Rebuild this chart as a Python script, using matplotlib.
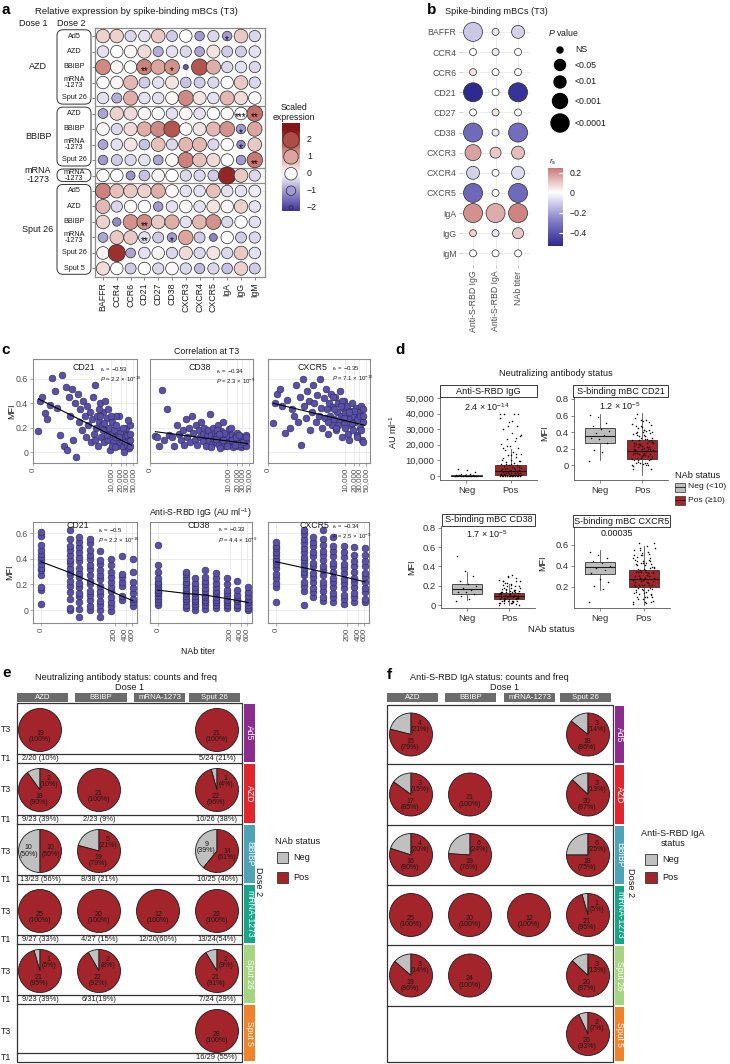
import numpy as np
import matplotlib
matplotlib.use("Agg")
import matplotlib.pyplot as plt
from matplotlib.colors import LinearSegmentedColormap, Normalize
from matplotlib.patches import Rectangle, FancyBboxPatch

plt.rcParams["font.family"] = ["Liberation Sans", "DejaVu Sans"]
plt.rcParams["mathtext.fontset"] = "custom"
plt.rcParams["mathtext.rm"] = "Liberation Sans"
plt.rcParams["mathtext.it"] = "Liberation Sans:italic"
plt.rcParams["mathtext.bf"] = "Liberation Sans:bold"

# -----------------------------
# (a) scaled expression dot plot
# -----------------------------
markers_a = ["BAFFR", "CCR4", "CCR6", "CD21", "CD27", "CD38",
             "CXCR3", "CXCR4", "CXCR5", "IgA", "IgG", "IgM"]
a_dose1 = ["AZD", "BBIBP", "mRNA\n-1273", "Sput 26"]
a_group_sizes = [5, 4, 1, 6]
a_dose2 = ["Ad5", "AZD", "BBIBP", "mRNA\n-1273", "Sput 26",
           "AZD", "BBIBP", "mRNA\n-1273", "Sput 26",
           "mRNA\n-1273",
           "Ad5", "AZD", "BBIBP", "mRNA\n-1273", "Sput 26", "Sput 5"]
scaled_expr = [
    [0.5, 0.5, -0.4, -0.3, 0.6, -0.5, 0.0, -1.0, -0.4, -1.0, 0.6, -0.4],
    [-0.3, 0.0, 0.1, 0.4, -0.8, -0.3, -0.4, -0.9, 0.3, -0.5, -0.5, -0.3],
    [1.3, 0.1, 0.0, 1.4, 1.0, 1.2, -1.8, 1.9, 0.9, -0.4, -0.3, -0.4],
    [0.0, 0.1, 0.8, -0.5, -0.3, 0.3, -0.6, -0.5, -0.4, 0.0, 0.6, -0.4],
    [-0.3, -0.8, 0.9, -0.3, -0.3, 0.1, 1.3, 0.3, -0.3, 0.8, 0.4, 0.0],
    [-0.9, 0.5, 0.4, 0.1, 0.0, -0.3, 0.1, -0.3, 0.0, 0.0, 0.0, 1.6],
    [0.1, -0.4, 0.4, 0.9, 1.3, 1.9, 0.0, 0.3, 0.8, 1.2, -1.0, 1.0],
    [-0.9, -0.3, 0.3, -0.6, 0.7, -0.4, 0.8, 0.8, -0.4, 0.0, -1.2, 0.6],
    [-1.0, -0.5, -0.4, -0.3, -0.9, 0.1, 1.4, 0.7, 0.4, 0.0, -1.0, 1.5],
    [0.0, 0.0, -1.1, -0.6, 0.1, 0.0, -0.4, -0.4, -0.5, 2.4, 0.6, -0.4],
    [1.4, 0.7, 0.6, 0.5, 0.9, 0.1, -0.3, -0.3, 0.7, -0.3, -0.3, -0.2],
    [0.8, -0.4, 0.0, 0.0, -1.0, -0.3, 0.1, -0.3, 0.3, 0.1, 0.5, -0.3],
    [0.5, -1.2, 1.2, 1.3, 0.6, 0.9, -0.3, 0.8, 1.2, -0.4, 0.0, -0.3],
    [-0.9, 0.6, 0.6, -0.3, -0.5, -1.0, 1.0, -0.5, -1.3, 0.0, -0.5, -0.4],
    [0.1, 2.3, -0.9, -0.3, 0.1, -0.4, 0.4, -0.4, 0.3, -0.4, 0.6, -0.3],
    [0.4, 0.0, -0.5, 0.0, -0.4, 0.1, -0.4, -0.7, -0.4, -0.6, 0.5, -0.5],
]
a_stars = [(0, 9, "*"), (2, 3, "**"), (2, 5, "*"), (5, 10, "***"), (5, 11, "**"),
           (6, 10, "*"), (7, 10, "*"), (8, 11, "**"), (12, 3, "**"), (13, 3, "**"),
           (13, 5, "*")]
a_legend_vals = [2, 1, 0, -1, -2]

# -----------------------------
# (b) correlation dot plot
# -----------------------------
markers_b = ["BAFFR", "CCR4", "CCR6", "CD21", "CD27", "CD38",
             "CXCR3", "CXCR4", "CXCR5", "IgA", "IgG", "IgM"]
b_cols = ["Anti-S-RBD IgG", "Anti-S-RBD IgA", "NAb titer"]
b_rs = [
    [-0.12, -0.05, -0.10], [0.0, -0.05, 0.0], [0.05, 0.0, 0.0],
    [-0.53, 0.0, -0.50], [0.0, 0.05, 0.0], [-0.34, -0.05, -0.33],
    [0.17, 0.10, 0.12], [-0.10, 0.0, -0.08], [-0.35, 0.0, -0.34],
    [0.20, 0.15, 0.22], [0.08, -0.05, 0.10], [0.0, 0.0, 0.0],
]
# 0 = NS, 1 = <0.05, 2 = <0.01, 3 = <0.001, 4 = <0.0001
b_pclass = [
    [4, 0, 2], [0, 0, 0], [0, 0, 0], [4, 0, 4], [0, 0, 0], [4, 0, 4],
    [3, 1, 2], [2, 0, 2], [4, 0, 4], [4, 4, 4], [0, 0, 1], [0, 0, 0],
]
p_labels = ["NS", "<0.05", "<0.01", "<0.001", "<0.0001"]

# -----------------------------
# (c) correlation scatter
# -----------------------------
igg_au = [13, 20, 29, 43, 55, 76, 93, 124, 148, 193,
          228, 270, 318, 345, 405, 439, 513, 555, 650, 701,
          819, 884, 954, 1113, 1200, 1397, 1509, 1626, 1753, 2040,
          2199, 2369, 2553, 2757, 2970, 3198, 3453, 3720, 4008, 4317,
          4659, 5019, 5403, 5820, 6282, 6765, 7284, 7842, 8463, 9114,
          9813, 10566, 11403, 12276, 13218, 14229, 15357, 16533, 17799, 19161,
          20676, 22260, 23964, 25800, 27837, 29970, 32280, 34800, 37470, 40000,
          4400, 5900, 7900, 10400, 14000, 19500, 26000, 35500, 40000, 40000,
          2900, 4100, 5300, 7400, 9700, 13500, 18000, 24500, 32000, 40000]
cd21_top = [0.17, 0.42, 0.45, 0.32, 0.27, 0.39, 0.61, 0.50, 0.36, 0.14,
            0.63, 0.05, 0.53, 0.02, 0.45, 0.30, 0.52, 0.10, 0.40, -0.04,
            0.48, 0.25, 0.35, 0.18, 0.42, 0.30, 0.12, 0.38, 0.22, 0.33,
            0.08, 0.27, 0.45, 0.15, 0.55, 0.20, 0.30, 0.05, 0.25, 0.40,
            0.12, 0.22, 0.33, 0.08, 0.42, 0.18, 0.28, 0.10, 0.20, 0.02,
            0.15, 0.25, 0.08, 0.18, 0.12, 0.22, 0.05, 0.14, 0.30, 0.08,
            0.18, 0.10, 0.04, 0.16, 0.08, 0.20, 0.06, 0.12, 0.03, 0.22,
            0.30, 0.24, 0.35, 0.05, 0.30, 0.16, 0.00, 0.26, 0.10, 0.05,
            0.10, 0.35, 0.18, 0.14, 0.30, 0.04, 0.12, 0.20, 0.14, 0.15]
cd38_top = [0.13, 0.12, 0.05, 0.51, 0.10, 0.35, 0.14, 0.12, 0.05, 0.22,
            0.15, 0.10, 0.18, 0.06, 0.27, 0.12, 0.20, 0.08, 0.30, 0.16,
            0.10, 0.22, 0.06, 0.18, 0.12, 0.25, 0.09, 0.15, 0.20, 0.05,
            0.13, 0.18, 0.10, 0.31, 0.14, 0.07, 0.20, 0.11, 0.16, 0.08,
            0.14, 0.22, 0.06, 0.12, 0.17, 0.09, 0.25, 0.05, 0.11, 0.15,
            0.08, 0.13, 0.19, 0.06, 0.10, 0.14, 0.04, 0.09, 0.12, 0.07,
            0.16, 0.05, 0.10, 0.13, 0.04, 0.08, 0.11, 0.06, 0.09, 0.14,
            0.18, 0.03, 0.16, 0.08, 0.10, 0.12, 0.07, 0.10, 0.05, 0.09,
            0.04, 0.11, 0.15, 0.10, 0.05, 0.20, 0.06, 0.14, 0.08, 0.12]
cxcr5_top = [0.24, 0.40, 0.48, 0.52, 0.38, 0.16, 0.43, 0.20, 0.35, 0.30,
             0.55, 0.25, 0.45, 0.06, 0.60, 0.38, 0.28, 0.50, 0.42, 0.18,
             0.33, 0.55, 0.40, 0.25, 0.47, 0.30, 0.60, 0.36, 0.20, 0.44,
             0.28, 0.52, 0.35, 0.15, 0.40, 0.30, 0.48, 0.22, 0.37, 0.27,
             0.45, 0.18, 0.33, 0.40, 0.25, 0.50, 0.30, 0.12, 0.36, 0.24,
             0.42, 0.20, 0.30, 0.38, 0.15, 0.27, 0.34, 0.22, 0.40, 0.18,
             0.30, 0.25, 0.36, 0.14, 0.28, 0.33, 0.20, 0.38, 0.10, 0.25,
             0.35, 0.22, 0.42, 0.32, 0.10, 0.34, 0.26, 0.18, 0.35, 0.08,
             0.25, 0.45, 0.20, 0.38, 0.28, 0.33, 0.24, 0.12, 0.30, 0.30]
top_fit_x = [15, 45000]
top_fit = [[0.436, 0.056], [0.167, 0.07], [0.40, 0.22]]
top_stats = [("−0.53", "2.2 × 10$^{-16}$"), ("−0.34", "2.3 × 10$^{-9}$"),
             ("−0.35", "7.1 × 10$^{-10}$")]

nab_levels = [0, 10, 20, 40, 80, 160, 320, 640]
cd21_bot = [
    [0.05, 0.16, 0.18, 0.27, 0.31, 0.33, 0.36, 0.39, 0.41, 0.44, 0.47, 0.51, 0.58, 0.61],
    [0.0, 0.02, 0.09, 0.14, 0.19, 0.23, 0.27, 0.30, 0.33, 0.37, 0.39, 0.43, 0.47, 0.50, 0.55, 0.62],
    [-0.05, 0.01, 0.06, 0.11, 0.13, 0.18, 0.21, 0.26, 0.29, 0.33, 0.38, 0.41, 0.45, 0.49, 0.53, 0.57],
    [0.0, 0.03, 0.08, 0.12, 0.15, 0.20, 0.23, 0.27, 0.32, 0.35, 0.40, 0.43, 0.47, 0.52, 0.55],
    [-0.05, 0.0, 0.04, 0.07, 0.12, 0.15, 0.19, 0.24, 0.27, 0.31, 0.36, 0.39, 0.46],
    [-0.01, 0.03, 0.06, 0.10, 0.15, 0.18, 0.22, 0.26, 0.30, 0.35, 0.40],
    [0.08, 0.11, 0.19, 0.22, 0.26, 0.28, 0.42],
    [0.03, 0.06, 0.09, 0.13, 0.17, 0.22, 0.30, 0.40],
]
cd38_bot = [
    [0.04, 0.06, 0.09, 0.11, 0.13, 0.14, 0.16, 0.18, 0.20, 0.22, 0.25, 0.30, 0.35, 0.51],
    [0.02, 0.04, 0.07, 0.09, 0.11, 0.13, 0.15, 0.17, 0.20, 0.22, 0.25, 0.28, 0.30],
    [0.0, 0.03, 0.05, 0.07, 0.09, 0.11, 0.13, 0.16, 0.18, 0.21, 0.25],
    [0.01, 0.04, 0.06, 0.08, 0.10, 0.12, 0.15, 0.17, 0.20, 0.23, 0.26, 0.31],
    [0.02, 0.04, 0.06, 0.08, 0.10, 0.13, 0.15, 0.18, 0.21, 0.25, 0.29],
    [0.02, 0.04, 0.06, 0.08, 0.11, 0.13, 0.16, 0.20, 0.25],
    [0.02, 0.04, 0.07, 0.09, 0.12, 0.16, 0.23],
    [0.0, 0.02, 0.04, 0.06, 0.08, 0.11, 0.14, 0.18],
]
cxcr5_bot = [
    [0.06, 0.18, 0.21, 0.25, 0.28, 0.33, 0.36, 0.38, 0.40, 0.43, 0.45, 0.48, 0.50, 0.53],
    [0.04, 0.15, 0.19, 0.22, 0.27, 0.30, 0.33, 0.36, 0.39, 0.41, 0.45, 0.48, 0.52, 0.55, 0.59, 0.62],
    [0.10, 0.14, 0.17, 0.22, 0.26, 0.29, 0.34, 0.37, 0.42, 0.45, 0.50, 0.53, 0.57],
    [0.07, 0.10, 0.15, 0.19, 0.22, 0.27, 0.31, 0.34, 0.39, 0.43, 0.46, 0.51, 0.55, 0.62],
    [0.06, 0.10, 0.13, 0.18, 0.22, 0.25, 0.30, 0.34, 0.37, 0.42, 0.46, 0.50, 0.57],
    [0.05, 0.09, 0.12, 0.17, 0.21, 0.24, 0.29, 0.33, 0.36, 0.41, 0.45, 0.50],
    [0.06, 0.10, 0.13, 0.18, 0.22, 0.25, 0.30, 0.34, 0.38, 0.43, 0.49],
    [0.06, 0.09, 0.14, 0.17, 0.22, 0.26, 0.29, 0.34, 0.38, 0.43, 0.48],
]
bot_fit = [[0.377, 0.293, 0.26, 0.225, 0.187, 0.148, 0.109, 0.073],
           [0.156, 0.13, 0.123, 0.117, 0.104, 0.09, 0.075, 0.06],
           [0.377, 0.33, 0.315, 0.297, 0.28, 0.26, 0.24, 0.22]]
bot_stats = [("−0.5", "2.2 × 10$^{-16}$"), ("−0.33", "4.4 × 10$^{-9}$"),
             ("−0.34", "2.5 × 10$^{-9}$")]
c_names = ["CD21", "CD38", "CXCR5"]

# -----------------------------
# (d) NAb status box plots
# -----------------------------
igg_neg = [0, 10, 30, 60, 90, 120, 150, 200, 250, 300, 380, 450, 600, 800,
           1100, 1500, 2400, 3600, 4800]
d_titles = ["Anti-S-RBD IgG", "S-binding mBC CD21", "S-binding mBC CD38",
            "S-binding mBC CXCR5"]
d_pvals = ["2.4 × 10$^{-14}$", "1.2 × 10$^{-5}$", "1.7 × 10$^{-5}$", "0.00035"]
# (median, q1, q3, whisker low, whisker high) for Neg, Pos
d_box_neg = [(150, 20, 450, 0, 1100), (0.35, 0.27, 0.45, 0.06, 0.62),
             (0.166, 0.114, 0.218, 0.05, 0.34), (0.39, 0.32, 0.44, 0.17, 0.55)]
d_box_pos = [(3300, 700, 7300, 0, 17000), (0.17, 0.07, 0.30, -0.12, 0.63),
             (0.093, 0.062, 0.124, 0.0, 0.22), (0.276, 0.20, 0.36, 0.03, 0.59)]

# -----------------------------
# (e), (f) pie grids
# -----------------------------
dose1_names = ["AZD", "BBIBP", "mRNA-1273", "Sput 26"]
dose2_names = ["Ad5", "AZD", "BBIBP", "mRNA-1273", "Sput 26", "Sput 5"]
dose2_colors = ["#8c2d8e", "#e0262c", "#4fa3b6", "#18a58a", "#a6d581", "#f0822a"]
e_counts = [  # (Neg, Pos)
    [(0, 19), None, None, (0, 21)],
    [(2, 18), (0, 21), None, (1, 22)],
    [(10, 10), (5, 19), None, (9, 14)],
    [(0, 25), (0, 20), (0, 12), (0, 22)],
    [(1, 21), (2, 22), None, (2, 21)],
    [None, None, None, (0, 28)],
]
e_t1 = [
    ["2/20 (10%)", "", "", "5/24 (21%)"],
    ["9/23 (39%)", "2/23 (9%)", "", "10/26 (38%)"],
    ["13/23 (56%)", "8/38 (21%)", "", "10/25 (40%)"],
    ["9/27 (33%)", "4/27 (15%)", "12/20(60%)", "13/24(54%)"],
    ["9/23 (39%)", "6/31(19%)", "", "7/24 (29%)"],
    ["", "", "", "16/29 (55%)"],
]
f_counts = [
    [(4, 15), None, None, (3, 18)],
    [(3, 17), (0, 21), None, (3, 20)],
    [(4, 16), (6, 19), None, (6, 18)],
    [(0, 25), (0, 20), (0, 12), (1, 21)],
    [(3, 19), (0, 24), None, (3, 20)],
    [None, None, None, (2, 26)],
]

# =============================
# Figure
# =============================
W, H = 730, 1064
fig = plt.figure(figsize=(W / 100, H / 100), dpi=100)


def axes_px(x0, y0, x1, y1):
    return fig.add_axes([x0 / W, 1 - y1 / H, (x1 - x0) / W, (y1 - y0) / H])


ov = axes_px(0, 0, W, H)
ov.set_zorder(10)
ov.patch.set_visible(False)


def T(x, y, s, **kw):
    kw.setdefault("fontsize", 6.3)
    kw.setdefault("ha", "center")
    kw.setdefault("va", "center")
    kw.setdefault("color", "#1a1a1a")
    return ov.text(x, H - y, s, **kw)


def s_px(d):
    return (np.asarray(d, float) * 72 / 100) ** 2


GRID = "#e8e8e8"
RED = "#a3242a"
GRAY = "#c0c0c0"

# ---------- panel a ----------
cmap_a = LinearSegmentedColormap.from_list(
    "expr", [(0, "#3f359c"), (0.25, "#a29bd2"), (0.458, "#ffffff"),
             (0.667, "#dca59e"), (0.875, "#b04c46"), (1, "#861616")])
norm_a = Normalize(-2.2, 2.6)


def size_a(v):
    return np.interp(v, [-2, -1, 0, 1, 2, 2.5], [4, 9.5, 12.5, 14.5, 16.5, 17.5])


T(1, 10, "a", ha="left", fontsize=11, fontweight="bold", color="black")
T(35, 12, "Relative expression by spike-binding mBCs (T3)", ha="left", fontsize=6.8)
T(33, 23, "Dose 1", fontsize=6.5)
T(71, 23, "Dose 2", fontsize=6.5)

axa = axes_px(95, 28, 265, 277)
vals = np.array(scaled_expr)
nr, nc = vals.shape
gx, gy = np.meshgrid(np.arange(nc), np.arange(nr))
axa.scatter(gx.ravel(), gy.ravel(), s=s_px(size_a(vals.ravel())), c=vals.ravel(),
            cmap=cmap_a, norm=norm_a, edgecolors="#2a2a2a", linewidths=0.5, zorder=3)
for r, c, t in a_stars:
    axa.text(c, r + 0.25, t, ha="center", va="center", fontsize=7, zorder=4)
axa.set_xlim(-0.58, 11.74)
axa.set_ylim(15.55, -0.52)
for k in range(nc):
    axa.axvline(k, color=GRID, lw=0.5, zorder=0)
for k in range(nr):
    axa.axhline(k, color=GRID, lw=0.5, zorder=0)
for yb in np.cumsum(a_group_sizes)[:-1] - 0.5:
    axa.axhline(yb, color="#8c8c8c", lw=0.9, zorder=2)
axa.set_xticks(range(nc))
axa.set_xticklabels(markers_a, rotation=90, fontsize=6.3, color="#1a1a1a")
axa.set_yticks(range(nr))
axa.set_yticklabels([])
axa.tick_params(length=2.5, width=0.5, color="#4d4d4d", pad=1.5)
for sp in axa.spines.values():
    sp.set_color("#8c8c8c")
    sp.set_linewidth(0.9)


def row_y(r):
    return 36 + 15.47 * r


start = 0
for g, n in enumerate(a_group_sizes):
    top = row_y(start - 0.5) + 1.5
    bot = row_y(start + n - 0.5) - 1.5
    ov.add_patch(FancyBboxPatch((57, H - bot), 34, bot - top,
                                boxstyle="round,pad=0,rounding_size=6",
                                fc="none", ec="#333333", lw=0.7))
    T(38, (top + bot) / 2, a_dose1[g], fontsize=6.5, linespacing=0.95)
    start += n
for r, lab in enumerate(a_dose2):
    T(74, row_y(r), lab, fontsize=5.2, linespacing=0.8)

# legend of a
T(294, 107, "Scaled", fontsize=6.3)
T(294, 118, "expression", fontsize=6.3)
axl = axes_px(282, 123, 300, 211)
axl.imshow(np.linspace(3.0, -2.2, 200)[:, None], aspect="auto", cmap=cmap_a,
           norm=norm_a, extent=[0, 1, -2.2, 3.0])
axl.scatter([0.5] * len(a_legend_vals), a_legend_vals, s=s_px(size_a(np.array(a_legend_vals))),
            c=a_legend_vals, cmap=cmap_a, norm=norm_a, edgecolors="#2a2a2a",
            linewidths=0.5, clip_on=False, zorder=3)
axl.set_xlim(0, 1)
axl.set_ylim(-2.2, 3.0)
axl.axis("off")
for v in a_legend_vals:
    T(307, 123 + (3.0 - v) / 5.2 * 88, "−%d" % -v if v < 0 else str(v), ha="left", fontsize=6.3)

# ---------- panel b ----------
cmap_b = LinearSegmentedColormap.from_list(
    "rs", [(0, "#2f2a90"), (0.33, "#8781c9"), (0.679, "#ffffff"), (1, "#c87673")])
norm_b = Normalize(-0.53, 0.25)
b_diam = np.array([7, 11, 13, 16, 19])

T(427, 10, "b", ha="left", fontsize=11, fontweight="bold", color="black")
T(445, 12, "Spike-binding mBCs (T3)", ha="left", fontsize=6.6)
axb = axes_px(462, 20, 530, 265)
rs = np.array(b_rs)
pc = np.array(b_pclass)
bx, by = np.meshgrid(np.arange(rs.shape[1]), np.arange(rs.shape[0]))
axb.scatter(bx.ravel(), by.ravel(), s=s_px(b_diam[pc.ravel()]), c=rs.ravel(),
            cmap=cmap_b, norm=norm_b, edgecolors="#2a2a2a", linewidths=0.5, zorder=3)
axb.set_xlim(-0.49, 2.53)
axb.set_ylim(11.58, -0.59)
for k in range(rs.shape[1]):
    axb.axvline(k, color=GRID, lw=0.6, zorder=0)
for k in range(rs.shape[0]):
    axb.axhline(k, color=GRID, lw=0.6, zorder=0)
axb.set_xticks(range(rs.shape[1]))
axb.set_xticklabels(b_cols, rotation=90, fontsize=6.3, color="#4d4d4d")
axb.set_yticks(range(rs.shape[0]))
axb.set_yticklabels(markers_b, fontsize=6.3, color="#4d4d4d")
axb.tick_params(length=2, width=0.5, color="#b0b0b0", pad=2)
for sp in axb.spines.values():
    sp.set_visible(False)

T(548, 33, "$P$ value", ha="left", fontsize=6.3)
leg_y = [50, 65, 82, 101, 123]
ov.scatter([560] * 5, [H - y for y in leg_y], s=s_px([6, 11, 12, 15, 18]), c="black")
for y, lab in zip(leg_y, p_labels):
    T(575, y, lab, ha="left", fontsize=6.3)
T(549, 162, "$r_\\mathrm{s}$", ha="left", fontsize=6)
axcb = axes_px(548, 168, 563, 246)
axcb.imshow(np.linspace(0.25, -0.53, 200)[:, None], aspect="auto", cmap=cmap_b,
            norm=norm_b, extent=[0, 1, -0.53, 0.25])
axcb.set_xticks([])
axcb.yaxis.tick_right()
axcb.set_yticks([0.2, 0, -0.2, -0.4])
axcb.set_yticklabels(["0.2", "0", "−0.2", "−0.4"])
axcb.tick_params(axis="y", direction="in", color="white", length=3, labelsize=6.3,
                 pad=5, labelcolor="#1a1a1a")
for sp in axcb.spines.values():
    sp.set_visible(False)

# ---------- panel c ----------
def fwd_top(x):
    return np.log10(1 + np.clip(x, -29.9, None) / 30)


def inv_top(y):
    return 30 * (10 ** y - 1)


def fwd_bot(x):
    return np.log10(1 + np.clip(x, -1.99, None) / 2)


def inv_bot(y):
    return 2 * (10 ** y - 1)


T(1, 350, "c", ha="left", fontsize=11, fontweight="bold", color="black")
T(207, 352, "Correlation at T3", fontsize=6.3)
T(200, 513, "Anti-S-RBD IgG (AU ml$^{-1}$)", fontsize=6.3)
T(198, 651, "NAb titer", fontsize=6.3)
T(12, 411, "MFI", rotation=90, fontsize=6.5)
T(10, 572, "MFI", rotation=90, fontsize=6.5)

PTC = "#5a50a8"
top_boxes = [(33, 137), (150, 253), (268, 370)]
bot_boxes = [(33, 137), (150, 252), (268, 369)]
top_ys = [cd21_top, cd38_top, cxcr5_top]
bot_ys = [cd21_bot, cd38_bot, cxcr5_bot]
top_ann = [(100, 370, 379), (216, 372, 381), (332, 369, 378)]
bot_ann = [(98, 531, 540), (218, 530, 540), (332, 527, 536)]
top_name = [(84, 367), (200, 368), (312, 368)]
bot_name = [(78, 525), (199, 526), (314, 526)]


def style_c(ax, first):
    for sp in ax.spines.values():
        sp.set_color("#8c8c8c")
        sp.set_linewidth(0.8)
    ax.grid(True, which="major", color=GRID, lw=0.6)
    ax.set_axisbelow(True)
    ax.tick_params(length=2, width=0.5, color="#8c8c8c", labelsize=6.3,
                   labelcolor="#4d4d4d", pad=1.5)
    ax.tick_params(axis="x", labelsize=5.8)
    if not first:
        ax.set_yticklabels([])
        ax.tick_params(axis="y", length=0)


for i in range(3):
    ax = axes_px(top_boxes[i][0], 359, top_boxes[i][1], 463)
    ax.set_xscale("function", functions=(fwd_top, inv_top))
    ax.scatter(igg_au, top_ys[i], s=s_px(6.8), c=PTC, edgecolors="#2a2a5c",
               linewidths=0.4, zorder=3)
    ax.plot(top_fit_x, top_fit[i], color="black", lw=0.8, zorder=4)
    ax.set_xlim(0, 67900)
    ax.set_ylim(-0.09, 0.764)
    ax.set_xticks([0, 10000, 20000, 30000, 50000])
    ax.set_xticklabels(["0", "10,000", "20,000", "30,000", "50,000"], rotation=90)
    ax.set_yticks([0, 0.2, 0.4, 0.6])
    ax.set_yticklabels(["0", "0.2", "0.4", "0.6"])
    style_c(ax, i == 0)
    T(top_name[i][0], top_name[i][1], c_names[i], fontsize=6.3)
    xa, y1, y2 = top_ann[i]
    T(xa, y1, "$r_\\mathrm{s}$ = " + top_stats[i][0], ha="left", fontsize=4.3)
    T(xa, y2, "$P$ = " + top_stats[i][1], ha="left", fontsize=4.3)

    ax = axes_px(bot_boxes[i][0], 522, bot_boxes[i][1], 623)
    ax.set_xscale("function", functions=(fwd_bot, inv_bot))
    xs = np.concatenate([[lv] * len(col) for lv, col in zip(nab_levels, bot_ys[i])])
    ys = np.concatenate(bot_ys[i])
    ax.scatter(xs, ys, s=s_px(6.8), c=PTC, edgecolors="#2a2a5c", linewidths=0.4, zorder=3)
    ax.plot(nab_levels, bot_fit[i], color="black", lw=0.8, zorder=4)
    ax.set_xlim(-0.79, 824)
    ax.set_ylim(-0.10, 0.686)
    ax.set_xticks([0, 200, 400, 600])
    ax.set_xticklabels(["0", "200", "400", "600"], rotation=90)
    ax.set_yticks([0, 0.2, 0.4, 0.6])
    ax.set_yticklabels(["0", "0.2", "0.4", "0.6"])
    style_c(ax, i == 0)
    T(bot_name[i][0], bot_name[i][1], c_names[i], fontsize=6.3)
    xa, y1, y2 = bot_ann[i]
    T(xa, y1, "$r_\\mathrm{s}$ = " + bot_stats[i][0], ha="left", fontsize=4.3)
    T(xa, y2, "$P$ = " + bot_stats[i][1], ha="left", fontsize=4.3)

# ---------- panel d ----------
T(395, 350, "d", ha="left", fontsize=11, fontweight="bold", color="black")
T(556, 373, "Neutralizing antibody status", fontsize=6.6)
T(551, 630, "NAb status", fontsize=6.8)

d_neg = [igg_neg, cd21_bot[0], cd38_bot[0], cxcr5_bot[0]]
d_pos = [igg_au, np.concatenate(cd21_bot[1:]), np.concatenate(cd38_bot[1:]),
         np.concatenate(cxcr5_bot[1:])]
d_boxes = [(440, 397, 537, 480), (574, 397, 668, 480), (441, 526, 535, 608),
           (574, 527, 670, 608)]
d_strips = [(440, 385, 537, 397), (573, 385, 668, 397), (442, 514, 535, 526),
            (573, 515, 670, 527)]
d_ylims = [(-2560, 50640), (-0.18, 0.824), (-0.031, 0.819), (0.0, 0.771)]
d_yticks = [[0, 10000, 20000, 30000, 40000, 50000], [0, 0.2, 0.4, 0.6, 0.8],
            [0, 0.2, 0.4, 0.6, 0.8], [0.2, 0.4, 0.6]]
d_ptxt = [(487, 407), (620, 406), (487, 534), (617, 534)]
d_ylab = [(393, 432, "AU ml$^{-1}$"), (545, 433, "MFI"), (412, 567, "MFI"),
          (543, 563, "MFI")]


def jitter(n, w=0.25):
    return ((np.arange(n) * 0.6180339) % 1 - 0.5) * 2 * w


for i in range(4):
    x0, y0, x1, y1 = d_boxes[i]
    ax = axes_px(x0, y0, x1, y1)
    stats = []
    for m, q1, q3, lo, hi in (d_box_neg[i], d_box_pos[i]):
        stats.append(dict(med=m, q1=q1, q3=q3, whislo=lo, whishi=hi, fliers=[]))
    bp = ax.bxp(stats, positions=[1, 2], widths=0.7, patch_artist=True,
                showfliers=False, showcaps=False,
                medianprops=dict(color="#1a1a1a", lw=0.8),
                whiskerprops=dict(color="#555555", lw=0.6),
                boxprops=dict(edgecolor="#333333", lw=0.6))
    bp["boxes"][0].set_facecolor("#bdbdbd")
    bp["boxes"][1].set_facecolor(RED)
    for k, grp in enumerate([d_neg[i], d_pos[i]]):
        grp = np.asarray(grp, float)
        ax.scatter(k + 1 + jitter(len(grp)), grp, s=1.2, c="black", lw=0, zorder=4)
    ax.set_xlim(0.4, 2.6)
    ax.set_ylim(*d_ylims[i])
    ax.set_xticks([1, 2])
    ax.set_xticklabels(["Neg", "Pos"])
    ax.set_yticks(d_yticks[i])
    if i == 0:
        ax.set_yticklabels(["{:,}".format(v) for v in d_yticks[i]])
    else:
        ax.set_yticklabels(["0" if v == 0 else "%.1f" % v for v in d_yticks[i]])
    for side in ["top", "right"]:
        ax.spines[side].set_visible(False)
    for side in ["left", "bottom"]:
        ax.spines[side].set_color("#555555")
        ax.spines[side].set_linewidth(0.6)
    ax.tick_params(length=2.5, width=0.5, color="#555555", labelsize=6.8,
                   labelcolor="#333333", pad=1.5)
    sx0, sy0, sx1, sy1 = d_strips[i]
    ov.add_patch(Rectangle((sx0, H - sy1), sx1 - sx0, sy1 - sy0, fc="white",
                           ec="#1a1a1a", lw=0.6))
    T((sx0 + sx1) / 2, (sy0 + sy1) / 2, d_titles[i], fontsize=6.6)
    T(d_ptxt[i][0], d_ptxt[i][1], d_pvals[i], fontsize=6.5)
    T(d_ylab[i][0], d_ylab[i][1], d_ylab[i][2], rotation=90, fontsize=6.5)

T(675, 475, "NAb status", ha="left", fontsize=6.6)
for y, fc, lab in [(487, "#bdbdbd", "Neg (<10)"), (500, RED, "Pos (≥10)")]:
    ov.add_patch(Rectangle((675, H - y - 4.5), 10, 9, fc=fc, ec="#333333", lw=0.5))
    ov.plot([675, 685], [H - y, H - y], color="#1a1a1a", lw=0.6)
    T(688, y, lab, ha="left", fontsize=6.1)

# ---------- panels e and f ----------
def pie_labels(cx, cy, neg, pos, r, fs=5.0):
    tot = neg + pos
    cyu = H - cy
    pn, pp = round(100 * neg / tot), round(100 * pos / tot)
    kw = dict(ha="center", va="center", fontsize=fs, color="#1a1a1a", linespacing=0.85)
    if neg == 0:
        ov.text(cx, cyu - 0.3 * r, "%d\n(%d%%)" % (pos, pp), **kw)
    elif neg / tot < 0.3:
        ov.text(cx + 0.4 * r, cyu + 0.38 * r, "%d\n(%d%%)" % (neg, pn), **kw)
        ov.text(cx - 0.05 * r, cyu - 0.45 * r, "%d\n(%d%%)" % (pos, pp), **kw)
    else:
        an = np.deg2rad(90 + 180 * neg / tot)
        ap = np.deg2rad(90 + 360 * neg / tot + 180 * pos / tot)
        ov.text(cx + 0.52 * r * np.cos(an), cyu + 0.52 * r * np.sin(an),
                "%d\n(%d%%)" % (neg, pn), **kw)
        ov.text(cx + 0.5 * r * np.cos(ap), cyu + 0.5 * r * np.sin(ap),
                "%d\n(%d%%)" % (pos, pp), **kw)


def pie_grid(counts, frame_x, strips_x, pie_x, tops, bottom, rstrip_x, t1=None):
    R = 21.5
    for j, (sx0, sx1) in enumerate(strips_x):
        ov.add_patch(Rectangle((sx0, H - 702), sx1 - sx0, 9, fc="#6b6b6b", ec="none"))
        T((sx0 + sx1) / 2, 697.8, dose1_names[j], color="white", fontsize=5.6)
    ends = tops[1:] + [bottom]
    ov.add_patch(Rectangle((frame_x[0], H - bottom), frame_x[1] - frame_x[0],
                           bottom - tops[0], fill=False, ec="#333333", lw=0.9))
    for k, (tp, en) in enumerate(zip(tops, ends)):
        if k > 0:
            ov.plot(frame_x, [H - tp, H - tp], color="#333333", lw=0.9)
        ov.add_patch(Rectangle((rstrip_x[0], H - en + 1), rstrip_x[1] - rstrip_x[0],
                               en - tp - 2, fc=dose2_colors[k], ec="none"))
        T((rstrip_x[0] + rstrip_x[1]) / 2, (tp + en) / 2, dose2_names[k],
          rotation=-90, color="white", fontsize=6.2)
        if t1 is not None:
            sep = en - 9
            ov.plot(frame_x, [H - sep, H - sep], color="#333333", lw=0.9)
            cy = tp + 27
            T(6, cy, "T3", fontsize=6.3)
            T(6, en - 4.5, "T1", fontsize=6.3)
            for j, lab in enumerate(t1[k]):
                if lab:
                    T(pie_x[j], en - 4.3, lab, fontsize=5.4)
        else:
            cy = (tp + en) / 2
        for j, cell in enumerate(counts[k]):
            if cell is None:
                continue
            ov.pie(list(cell), colors=[GRAY, RED], center=(pie_x[j], H - cy), radius=R,
                   startangle=90, counterclock=True, frame=True,
                   wedgeprops=dict(edgecolor="#1a1a1a", linewidth=0.6))
            pie_labels(pie_x[j], cy, cell[0], cell[1], R)


T(2, 673, "e", ha="left", fontsize=11, fontweight="bold", color="black")
T(35, 677, "Neutralizing antibody status: counts and freq", ha="left", fontsize=6.6)
T(130, 688, "Dose 1", fontsize=6.6)
pie_grid(e_counts, (17, 242), [(17, 68), (75, 127), (134, 185), (189, 240)],
         [40, 99, 158, 217], [703, 763, 824, 884, 944, 1004], 1062, (244, 255), t1=e_t1)
T(259, 882, "Dose 2", rotation=-90, fontsize=6.6)
T(275, 842, "NAb status", ha="left", fontsize=6.6)
for y, fc, lab in [(857, GRAY, "Neg"), (877, RED, "Pos")]:
    ov.add_patch(Rectangle((277, H - y - 5.5), 11, 11, fc=fc, ec="#333333", lw=0.6))
    T(293, y, lab, ha="left", fontsize=6.6)

T(387, 675, "f", ha="left", fontsize=11, fontweight="bold", color="black")
T(410, 677, "Anti-S-RBD IgA status: counts and freq", ha="left", fontsize=6.6)
T(505, 688, "Dose 1", fontsize=6.6)
pie_grid(f_counts, (387, 613), [(387, 438), (445, 496), (504, 555), (560, 611)],
         [411, 470, 529, 588], [705, 764, 825, 885, 945, 1006], 1062, (615, 624))
T(630, 883, "Dose 2", rotation=-90, fontsize=6.6)
T(673, 833, "Anti-S-RBD IgA", fontsize=6.6)
T(673, 843, "status", fontsize=6.6)
for y, fc, lab in [(859, GRAY, "Neg"), (877, RED, "Pos")]:
    ov.add_patch(Rectangle((645, H - y - 5.5), 12, 11, fc=fc, ec="#333333", lw=0.6))
    T(662, y, lab, ha="left", fontsize=6.6)

ov.set_aspect("auto")
ov.set_xlim(0, W)
ov.set_ylim(0, H)
ov.axis("off")

fig.savefig("out.png", dpi=100)
